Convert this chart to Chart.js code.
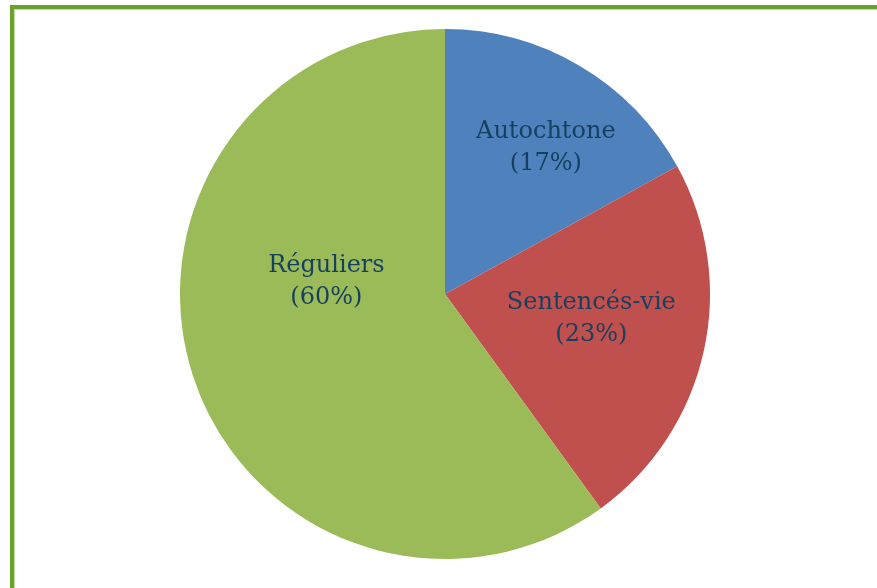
<!DOCTYPE html>
<html>
<head>
<meta charset="utf-8">
<script src="https://cdn.jsdelivr.net/npm/chart.js@4.4.0/dist/chart.umd.min.js"></script>
<style>
  html,body{margin:0;padding:0;background:#fff;}
  #wrap{width:877px;height:588px;position:relative;}
</style>
</head>
<body>
<div id="wrap"><canvas id="chart" width="877" height="588"></canvas></div>
<script>
const categories = ['Autochtone', 'Sentencés-vie', 'Réguliers'];
const shares = [17, 23, 60];
const sliceColors = ['#4f81bd', '#c0504d', '#9bbb59'];

// where each label sits inside its slice: fraction of radius, angle shift (deg)
const labelPlace = [
  { r: 0.67, shift: 4 },
  { r: 0.56, shift: -3 },
  { r: 0.45, shift: 24 }
];

const framePlugin = {
  id: 'frame',
  beforeDraw(chart){
    const c = chart.ctx;
    c.save();
    c.strokeStyle = '#6aa12b';
    c.lineWidth = 4;
    c.beginPath();
    c.moveTo(12, 600);
    c.lineTo(12, 7);
    c.lineTo(900, 7);
    c.stroke();
    c.strokeStyle = 'rgba(155,200,100,0.6)';
    c.lineWidth = 1;
    c.beginPath();
    c.moveTo(14.5, 600);
    c.lineTo(14.5, 9.5);
    c.lineTo(900, 9.5);
    c.stroke();
    c.restore();
  }
};

const labelPlugin = {
  id: 'sliceLabels',
  afterDatasetsDraw(chart){
    const c = chart.ctx;
    const meta = chart.getDatasetMeta(0);
    c.save();
    c.font = '24px "DejaVu Serif", serif';
    c.fillStyle = '#173f5f';
    c.textAlign = 'center';
    c.textBaseline = 'middle';
    meta.data.forEach((arc, i) => {
      const p = arc.getProps(['x','y','startAngle','endAngle','outerRadius'], true);
      const mid = (p.startAngle + p.endAngle) / 2 + labelPlace[i].shift * Math.PI / 180;
      const d = p.outerRadius * labelPlace[i].r;
      const x = p.x + Math.cos(mid) * d;
      const y = p.y + Math.sin(mid) * d;
      c.fillText(categories[i], x, y - 16);
      c.fillText('(' + shares[i] + '%)', x, y + 16);
    });
    c.restore();
  }
};

new Chart(document.getElementById('chart').getContext('2d'), {
  type: 'pie',
  data: {
    labels: categories,
    datasets: [{ data: shares, backgroundColor: sliceColors, borderWidth: 0 }]
  },
  options: {
    responsive: false,
    animation: false,
    layout: { padding: { left: 13, right: 0, top: 29, bottom: 29 } },
    plugins: { legend: { display: false }, tooltip: { enabled: false } }
  },
  plugins: [framePlugin, labelPlugin]
});
</script>
</body>
</html>
